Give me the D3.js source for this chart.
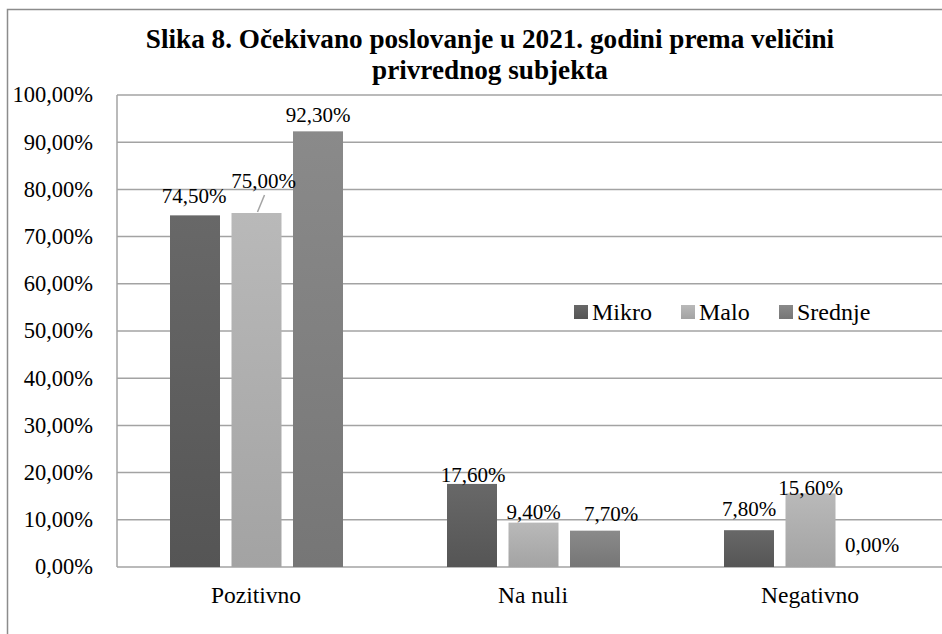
<!DOCTYPE html>
<html>
<head>
<meta charset="utf-8">
<script src="https://cdn.jsdelivr.net/npm/d3@7"></script>
<style>
  body { margin:0; background:#fff; }
</style>
</head>
<body>
<div id="chart"></div>
<script>
var categories = ["Pozitivno", "Na nuli", "Negativno"];
var series = ["Mikro", "Malo", "Srednje"];
var mikro = [74.5, 17.6, 7.8];
var malo = [75.0, 9.4, 15.6];
var srednje = [92.3, 7.7, 0.0];
var yTicks = [0,10,20,30,40,50,60,70,80,90,100];

function drawChart(){
  var values = [mikro, malo, srednje];
  var fmt = function(v){ return v.toFixed(2).replace(".", ",") + "%"; };

  var width = 942, height = 634;
  var svg = d3.select("#chart").append("svg")
      .attr("width", width).attr("height", height)
      .attr("font-family", "'Liberation Serif', 'Times New Roman', Times, serif");

  // gradients for bars
  var defs = svg.append("defs");
  var cols = [["#686868","#555555"],["#b9b9b9","#a3a3a3"],["#8a8a8a","#767676"]];
  cols.forEach(function(c,i){
    var g = defs.append("linearGradient").attr("id","g"+i)
      .attr("x1",0).attr("y1",0).attr("x2",0).attr("y2",1);
    g.append("stop").attr("offset","0%").attr("stop-color",c[0]);
    g.append("stop").attr("offset","100%").attr("stop-color",c[1]);
  });

  // outer border
  svg.append("rect").attr("x",7.5).attr("y",9.5).attr("width",960).attr("height",660)
    .attr("fill","none").attr("stroke","#8c8c8c").attr("stroke-width",1.5);

  // title
  svg.append("text").attr("x",490).attr("y",48).attr("text-anchor","middle")
    .style("font-size","27.2px").style("font-weight","bold")
    .text("Slika 8. Očekivano poslovanje u 2021. godini prema veličini");
  svg.append("text").attr("x",490).attr("y",79).attr("text-anchor","middle")
    .style("font-size","27.2px").style("font-weight","bold")
    .text("privrednog subjekta");

  var pLeft = 117, pRight = 948, pTop = 95, pBottom = 567;

  var x = d3.scaleBand().domain(categories).range([pLeft, pRight]);
  var y = d3.scaleLinear().domain([0,100]).range([pBottom, pTop]);

  // gridlines
  svg.append("g").selectAll("line").data(yTicks).enter().append("line")
    .attr("x1", pLeft).attr("x2", pRight)
    .attr("y1", function(d){ return y(d); }).attr("y2", function(d){ return y(d); })
    .attr("stroke","#a3a3a3").attr("stroke-width",1.5);

  // left border of plot area
  svg.append("line").attr("x1",pLeft).attr("x2",pLeft).attr("y1",pTop).attr("y2",pBottom)
    .attr("stroke","#a3a3a3").attr("stroke-width",1.5);

  // y tick labels
  svg.append("g").selectAll("text").data(yTicks).enter().append("text")
    .attr("x", 93).attr("y", function(d){ return y(d); }).attr("dy","0.33em")
    .attr("text-anchor","end").style("font-size","22.5px")
    .text(function(d){ return fmt(d); });

  // x labels
  svg.append("g").selectAll("text").data(categories).enter().append("text")
    .attr("x", function(d){ return x(d) + x.bandwidth()/2 + 0.5; })
    .attr("y", 603).attr("text-anchor","middle").style("font-size","23.5px")
    .text(function(d){ return d; });

  var barW = 50, step = 61.5;
  var groupW = barW + step*2;

  var bars = [];
  categories.forEach(function(c,ci){
    series.forEach(function(s,si){
      bars.push({cat:c, si:si, v:values[si][ci]});
    });
  });

  function bx(d){ return x(d.cat) + x.bandwidth()/2 - groupW/2 + 1 + d.si*step; }

  svg.append("g").selectAll("rect").data(bars).enter().append("rect")
    .attr("x", bx).attr("width", barW)
    .attr("y", function(d){ return y(d.v); })
    .attr("height", function(d){ return y(0) - y(d.v); })
    .attr("fill", function(d){ return "url(#g"+d.si+")"; });

  // data labels, placed like the original (dx, baseline offset from bar top)
  var place = {
    "Pozitivno-0":[-1,-12], "Pozitivno-1":[7,-25], "Pozitivno-2":[0,-9],
    "Na nuli-0":[1,-2], "Na nuli-1":[0,-4], "Na nuli-2":[16,-10],
    "Negativno-0":[0,-14], "Negativno-1":[0,1.5], "Negativno-2":[0,-15]
  };
  svg.append("g").selectAll("text").data(bars).enter().append("text")
    .attr("x", function(d){ return bx(d) + barW/2 + place[d.cat+"-"+d.si][0]; })
    .attr("y", function(d){ return y(d.v) + place[d.cat+"-"+d.si][1]; })
    .attr("text-anchor","middle").style("font-size","21px")
    .text(function(d){ return fmt(d.v); });

  // leader line for 75,00%
  var d75 = bars[1];
  svg.append("line")
    .attr("x1", bx(d75) + barW/2 + 8).attr("y1", y(d75.v) - 18)
    .attr("x2", bx(d75) + barW/2 + 1).attr("y2", y(d75.v) - 1)
    .attr("stroke","#a3a3a3").attr("stroke-width",1.5);

  // legend
  var leg = svg.append("g").selectAll("g").data(series).enter().append("g")
    .attr("transform", function(d,i){ return "translate(" + [574, 681, 779][i] + ",305)"; });
  leg.append("rect").attr("width",14).attr("height",14)
    .attr("fill", function(d,i){ return "url(#g"+i+")"; });
  leg.append("text").attr("x",18).attr("y",15)
    .style("font-size","24px").text(function(d){ return d; });
}
drawChart();
</script>
</body>
</html>
